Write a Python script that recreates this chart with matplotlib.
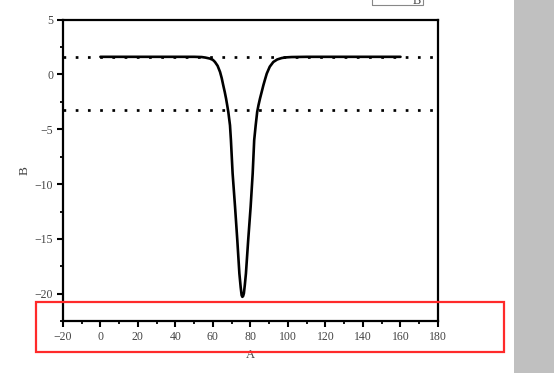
import matplotlib
matplotlib.use("Agg")
import matplotlib.pyplot as plt
from matplotlib.patches import Rectangle
from matplotlib.ticker import MultipleLocator

# ---- data ----
curve_x = [0, 20, 40, 50, 54.0, 56.0, 58.4, 60.0, 61.1, 62.5, 63.8, 64.7, 65.5,
           66.3, 67.0, 67.6, 68.2, 69.1, 69.6, 70.5, 71.8, 73.0, 74.1, 74.8,
           75.3, 75.7, 76.1, 76.5, 77.0, 77.6, 78.8, 80.1, 81.2, 82.0, 82.8,
           83.6, 84.3, 85.1, 86.0, 86.9, 87.8, 88.7, 90.3, 92.2, 94.3, 96.7,
           99.0, 102, 110, 130, 150, 160]
curve_y = [1.6, 1.6, 1.6, 1.6, 1.58, 1.53, 1.44, 1.32, 1.13, 0.78, 0.22, -0.35,
           -0.99, -1.6, -2.20, -2.8, -3.42, -4.64, -6.0, -9.03, -12.08, -15.11,
           -18.14, -19.4, -20.12, -20.27, -20.2, -19.96, -19.2, -18.14, -15.11,
           -12.08, -9.03, -6.0, -4.64, -3.42, -2.8, -2.20, -1.6, -0.99, -0.45,
           0.07, 0.7, 1.13, 1.36, 1.49, 1.55, 1.58, 1.6, 1.6, 1.6, 1.6]
ref_levels = [1.6, -3.25]
x_label = "A"
y_label = "B"
legend_label = "B"
x_ticks = list(range(-20, 181, 20))
y_ticks = [5, 0, -5, -10, -15, -20]

plt.rcParams['lines.scale_dashes'] = False
serif = ['Liberation Serif', 'DejaVu Serif']

fig = plt.figure(figsize=(5.54, 3.73), dpi=100)
ax = fig.add_axes([0.1135, 0.1386, 0.6771, 0.8091])

for lv in ref_levels:
    ax.axhline(lv, color='black', lw=1.95, dashes=(1.95, 6.85), zorder=1)
ax.plot(curve_x, curve_y, color='black', lw=1.9, zorder=2,
        solid_joinstyle='round', solid_capstyle='round')

ax.set_xlim(-20, 180)
ax.set_ylim(-22.5, 5)
ax.set_xticks(x_ticks)
ax.set_yticks(y_ticks)
ax.xaxis.set_minor_locator(MultipleLocator(10))
ax.yaxis.set_minor_locator(MultipleLocator(2.5))
ax.tick_params(which='major', direction='out', length=4, width=1.5,
               labelsize=8.5, labelcolor='#444444', pad=3)
ax.tick_params(which='minor', direction='out', length=2.5, width=1.3)
ax.tick_params(top=False, right=False, which='both')
for lab in ax.get_xticklabels() + ax.get_yticklabels():
    lab.set_family(serif)
for sp in ax.spines.values():
    sp.set_linewidth(1.6)

ax.set_xlabel(x_label, family=serif, fontsize=9, color='#444444', labelpad=4)
ax.set_ylabel(y_label, family=serif, fontsize=9.5, color='#444444', labelpad=3)

# clipped legend box at the top
fig.patches.append(Rectangle((371.7/554, 1 - 5/373), 51.6/554, 30/373,
                             transform=fig.transFigure, fill=False,
                             edgecolor='#888888', lw=0.8))
fig.text(417/554, 1 - 4/373, legend_label, family=serif, fontsize=9,
         color='#444444', ha='center', va='baseline')

# gray side bar
fig.patches.append(Rectangle((514/554, 0), 40/554, 1, transform=fig.transFigure,
                             facecolor='#c0c0c0', edgecolor='none', zorder=0))

# red highlight rectangle
fig.patches.append(Rectangle((36.4/554, 1 - 351.7/373), 467.1/554, 49.4/373,
                             transform=fig.transFigure, fill=False,
                             edgecolor='#ff2a2a', lw=1.6, zorder=10))

fig.savefig('out.png', dpi=100)
